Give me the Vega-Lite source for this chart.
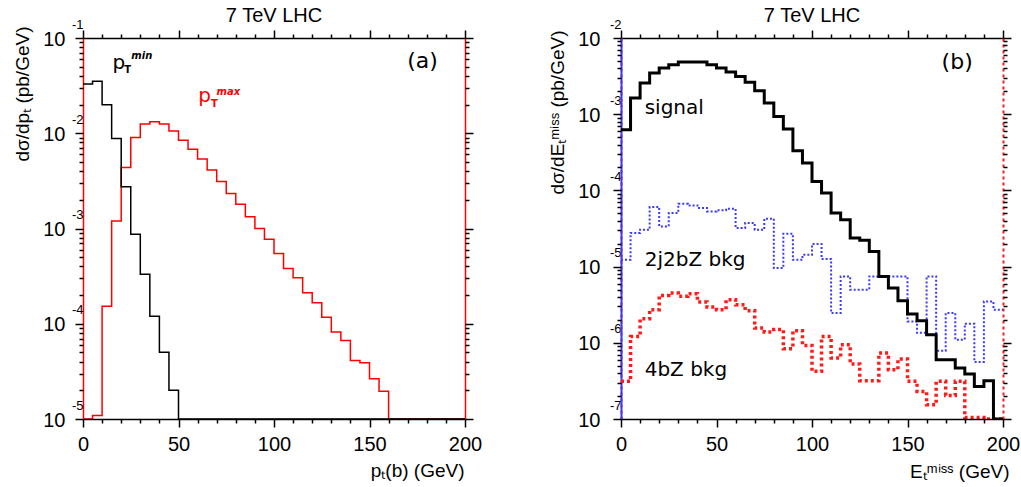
{
  "$schema": "https://vega.github.io/schema/vega-lite/v6.json",
  "background": "white",
  "padding": {"left": 12, "top": 6, "right": 5, "bottom": 5},
  "bounds": "flush",
  "spacing": 156,
  "config": {
    "view": {"stroke": null},
    "axis": {"grid": false, "labelFlush": false, "labelOverlap": false, "labelBound": false, "labelFont": "Liberation Sans", "titleFont": "Liberation Sans", "labelColor": "black", "titleColor": "black"},
    "title": {"font": "Liberation Sans", "fontSize": 20, "fontWeight": "normal", "color": "black"}
  },
  "datasets": {
    "pTmin": [
      {"x": 0, "y": 0.0328}, {"x": 5, "y": 0.0351}, {"x": 10, "y": 0.0199}, {"x": 15, "y": 0.00881}, {"x": 20, "y": 0.00274},
      {"x": 25, "y": 0.000869}, {"x": 30, "y": 0.00033}, {"x": 35, "y": 0.00012}, {"x": 40, "y": 0.0000502}, {"x": 45, "y": 0.00002},
      {"x": 50, "y": 0}, {"x": 55, "y": 0}, {"x": 60, "y": 0}, {"x": 65, "y": 0}, {"x": 70, "y": 0}, {"x": 75, "y": 0},
      {"x": 80, "y": 0}, {"x": 85, "y": 0}, {"x": 90, "y": 0}, {"x": 95, "y": 0}, {"x": 100, "y": 0}, {"x": 105, "y": 0},
      {"x": 110, "y": 0}, {"x": 115, "y": 0}, {"x": 120, "y": 0}, {"x": 125, "y": 0}, {"x": 130, "y": 0}, {"x": 135, "y": 0},
      {"x": 140, "y": 0}, {"x": 145, "y": 0}, {"x": 150, "y": 0}, {"x": 155, "y": 0}, {"x": 160, "y": 0}, {"x": 165, "y": 0},
      {"x": 170, "y": 0}, {"x": 175, "y": 0}, {"x": 180, "y": 0}, {"x": 185, "y": 0}, {"x": 190, "y": 0}, {"x": 195, "y": 0},
      {"x": 200, "y": 0}
    ],
    "pTmax": [
      {"x": 0, "y": 0}, {"x": 5, "y": 0.0000109}, {"x": 10, "y": 0.000153}, {"x": 15, "y": 0.0012}, {"x": 20, "y": 0.00436},
      {"x": 25, "y": 0.00904}, {"x": 30, "y": 0.01247}, {"x": 35, "y": 0.01318}, {"x": 40, "y": 0.01247}, {"x": 45, "y": 0.01059},
      {"x": 50, "y": 0.00845}, {"x": 55, "y": 0.00681}, {"x": 60, "y": 0.00535}, {"x": 65, "y": 0.00412}, {"x": 70, "y": 0.00311},
      {"x": 75, "y": 0.00233}, {"x": 80, "y": 0.0018}, {"x": 85, "y": 0.00133}, {"x": 90, "y": 0.001}, {"x": 95, "y": 0.00077},
      {"x": 100, "y": 0.000548}, {"x": 105, "y": 0.000381}, {"x": 110, "y": 0.000304}, {"x": 115, "y": 0.000212}, {"x": 120, "y": 0.000166},
      {"x": 125, "y": 0.000117}, {"x": 130, "y": 0.0000817}, {"x": 135, "y": 0.0000667}, {"x": 140, "y": 0.0000411}, {"x": 145, "y": 0.0000389},
      {"x": 150, "y": 0.0000264}, {"x": 155, "y": 0.0000196}, {"x": 160, "y": 0}, {"x": 165, "y": 0}, {"x": 170, "y": 0},
      {"x": 175, "y": 0}, {"x": 180, "y": 0}, {"x": 185, "y": 0}, {"x": 190, "y": 0}, {"x": 195, "y": 0}, {"x": 200, "y": 0}
    ],
    "signal": [
      {"x": 0, "y": 0.000626}, {"x": 5, "y": 0.00163}, {"x": 10, "y": 0.00256}, {"x": 15, "y": 0.00347}, {"x": 20, "y": 0.00403},
      {"x": 25, "y": 0.00447}, {"x": 30, "y": 0.00484}, {"x": 35, "y": 0.00484}, {"x": 40, "y": 0.00484}, {"x": 45, "y": 0.00447},
      {"x": 50, "y": 0.00405}, {"x": 55, "y": 0.00357}, {"x": 60, "y": 0.00313}, {"x": 65, "y": 0.00262}, {"x": 70, "y": 0.00203},
      {"x": 75, "y": 0.0014}, {"x": 80, "y": 0.000935}, {"x": 85, "y": 0.000638}, {"x": 90, "y": 0.000332}, {"x": 95, "y": 0.000229},
      {"x": 100, "y": 0.000131}, {"x": 105, "y": 0.0000924}, {"x": 110, "y": 0.0000505}, {"x": 115, "y": 0.0000412}, {"x": 120, "y": 0.0000237},
      {"x": 125, "y": 0.0000221}, {"x": 130, "y": 0.0000158}, {"x": 135, "y": 0.00000743}, {"x": 140, "y": 0.00000524}, {"x": 145, "y": 0.00000356},
      {"x": 150, "y": 0.00000239}, {"x": 155, "y": 0.00000195}, {"x": 160, "y": 0.00000128}, {"x": 165, "y": 0.0000006}, {"x": 170, "y": 0.0000006},
      {"x": 175, "y": 0.000000467}, {"x": 180, "y": 0.000000389}, {"x": 185, "y": 0.000000268}, {"x": 190, "y": 0.000000318}, {"x": 195, "y": 0},
      {"x": 200, "y": 0}
    ],
    "bkg2j2bZ": [
      {"x": 0, "y": 0.0000123}, {"x": 5, "y": 0.0000276}, {"x": 10, "y": 0.0000305}, {"x": 15, "y": 0.0000605}, {"x": 20, "y": 0.0000337},
      {"x": 25, "y": 0.0000505}, {"x": 30, "y": 0.0000668}, {"x": 35, "y": 0.0000635}, {"x": 40, "y": 0.0000587}, {"x": 45, "y": 0.000053},
      {"x": 50, "y": 0.0000547}, {"x": 55, "y": 0.0000575}, {"x": 60, "y": 0.0000321}, {"x": 65, "y": 0.0000373}, {"x": 70, "y": 0.0000305},
      {"x": 75, "y": 0.0000426}, {"x": 80, "y": 0.00000959}, {"x": 85, "y": 0.000027}, {"x": 90, "y": 0.0000123}, {"x": 95, "y": 0.0000143},
      {"x": 100, "y": 0.0000198}, {"x": 105, "y": 0.0000126}, {"x": 110, "y": 0.00000246}, {"x": 115, "y": 0.00000743}, {"x": 120, "y": 0.00000497},
      {"x": 125, "y": 0.00000497}, {"x": 130, "y": 0.00000743}, {"x": 135, "y": 0.00000743}, {"x": 140, "y": 0.00000743}, {"x": 145, "y": 0.00000743},
      {"x": 150, "y": 0.00000191}, {"x": 155, "y": 0.00000135}, {"x": 160, "y": 0.00000743}, {"x": 165, "y": 0.000000787}, {"x": 170, "y": 0.00000246},
      {"x": 175, "y": 0.0000011}, {"x": 180, "y": 0.00000178}, {"x": 185, "y": 0.00000056}, {"x": 190, "y": 0.00000349}, {"x": 195, "y": 0.00000272},
      {"x": 200, "y": 0.00000272}
    ],
    "bkg4bZ": [
      {"x": 0, "y": 0.000000312}, {"x": 5, "y": 0.00000121}, {"x": 10, "y": 0.00000207}, {"x": 15, "y": 0.00000272}, {"x": 20, "y": 0.00000419},
      {"x": 25, "y": 0.00000451}, {"x": 30, "y": 0.00000407}, {"x": 35, "y": 0.00000441}, {"x": 40, "y": 0.00000343}, {"x": 45, "y": 0.00000295},
      {"x": 50, "y": 0.00000272}, {"x": 55, "y": 0.00000368}, {"x": 60, "y": 0.00000316}, {"x": 65, "y": 0.00000264}, {"x": 70, "y": 0.00000156},
      {"x": 75, "y": 0.00000139}, {"x": 80, "y": 0.00000149}, {"x": 85, "y": 0.000000838}, {"x": 90, "y": 0.00000144}, {"x": 95, "y": 0.000000925},
      {"x": 100, "y": 0.000000422}, {"x": 105, "y": 0.00000121}, {"x": 110, "y": 0.000000632}, {"x": 115, "y": 0.000000944}, {"x": 120, "y": 0.000000527},
      {"x": 125, "y": 0.000000318}, {"x": 130, "y": 0.000000318}, {"x": 135, "y": 0.000000735}, {"x": 140, "y": 0.000000444}, {"x": 145, "y": 0.000000612},
      {"x": 150, "y": 0.000000312}, {"x": 155, "y": 0.00000023}, {"x": 160, "y": 0.000000154}, {"x": 165, "y": 0.000000312}, {"x": 170, "y": 0.000000204},
      {"x": 175, "y": 0.000000312}, {"x": 180, "y": 0.000000105}, {"x": 185, "y": 0.000000105}, {"x": 190, "y": 0}, {"x": 195, "y": 0},
      {"x": 200, "y": 0}
    ]
  },
  "hconcat": [
    {
      "width": 382,
      "height": 381,
      "title": {"text": "7 TeV LHC", "offset": -8},
      "resolve": {"axis": {"x": "independent", "y": "independent"}},
      "layer": [
        {
          "data": {"name": "pTmax"},
          "mark": {"type": "line", "interpolate": "step-after", "color": "#ff0000", "strokeWidth": 1.5, "clip": true, "invalid": "show"},
          "encoding": {
            "x": {"field": "x", "type": "quantitative", "scale": {"domain": [0, 200], "nice": false, "zero": false},
              "axis": {"orient": "top", "values": [0], "labels": false, "ticks": false, "title": null, "domainColor": "black", "domainWidth": 1.5}},
            "y": {"field": "y", "type": "quantitative", "scale": {"type": "log", "domain": [0.00001, 0.1], "nice": false, "clamp": true},
              "axis": {"orient": "right", "values": [0.1], "labels": false, "ticks": false, "title": null, "domainColor": "#ff0000", "domainWidth": 1.5}}
          }
        },
        {
          "data": {"name": "pTmin"},
          "mark": {"type": "line", "interpolate": "step-after", "color": "black", "strokeWidth": 1.5, "clip": true, "invalid": "show"},
          "encoding": {
            "x": {"field": "x", "type": "quantitative", "scale": {"domain": [0, 200], "nice": false, "zero": false},
              "axis": {"orient": "bottom", "values": [0, 50, 100, 150, 200], "ticks": false, "labelFontSize": 20, "labelPadding": 15,
                "domainColor": "black", "domainWidth": 1.5, "zindex": 1,
                "title": "pₜ(b) (GeV)", "titleFontSize": 19, "titleFontWeight": "normal", "titleX": 381, "titleY": 57, "titleAlign": "right", "titleBaseline": "alphabetic"}},
            "y": {"field": "y", "type": "quantitative", "scale": {"type": "log", "domain": [0.00001, 0.1], "nice": false, "clamp": true},
              "axis": {"orient": "left", "values": [0.00001, 0.0001, 0.001, 0.01, 0.1], "ticks": false, "labelExpr": "'10'", "labelFontSize": 20, "labelPadding": 18,
                "labelBaseline": "middle", "labelOffset": 1, "domainColor": "#ff0000", "domainWidth": 1.5,
                "title": "dσ/dpₜ (pb/GeV)", "titleFontSize": 19, "titleFontWeight": "normal", "titleAngle": -90, "titleX": -55, "titleY": -12, "titleAlign": "right", "titleBaseline": "alphabetic"}}
          }
        },
        {
          "data": {"values": [{}]},
          "mark": {"type": "text", "text": "(a)", "font": "DejaVu Sans", "fontSize": 22, "align": "center", "baseline": "middle", "color": "black"},
          "encoding": {
            "x": {"datum": 177.8, "type": "quantitative", "scale": {"domain": [0, 200], "nice": false, "zero": false},
              "axis": {"orient": "bottom", "values": [0, 50, 100, 150, 200], "labels": false, "title": null, "domain": false, "ticks": true, "tickSize": 8, "tickWidth": 1.5, "tickColor": "#000000"}},
            "y": {"datum": 0.0573, "type": "quantitative", "scale": {"type": "log", "domain": [0.00001, 0.1], "nice": false, "clamp": true},
              "axis": {"orient": "left", "values": [0.00001, 0.0001, 0.001, 0.01, 0.1], "labels": false, "title": null, "domain": false, "ticks": true, "tickSize": 8, "tickWidth": 1.5, "tickColor": "#000000"}}
          }
        },
        {
          "data": {"values": [{}]},
          "mark": {"type": "text", "text": "p", "font": "DejaVu Sans", "fontSize": 20, "align": "left", "baseline": "alphabetic", "color": "black"},
          "encoding": {
            "x": {"datum": 15.4, "type": "quantitative", "scale": {"domain": [0, 200], "nice": false, "zero": false},
              "axis": {"orient": "bottom", "values": [10,20,30,40,60,70,80,90,110,120,130,140,160,170,180,190], "labels": false, "title": null, "domain": false, "ticks": true, "tickSize": 4, "tickWidth": 1.5, "tickColor": "#000000"}},
            "y": {"datum": 0.0472, "type": "quantitative", "scale": {"type": "log", "domain": [0.00001, 0.1], "nice": false, "clamp": true},
              "axis": {"orient": "left", "values": [0.00001, 0.0001, 0.001, 0.01, 0.1], "ticks": false, "domain": false, "title": null,
                "labelExpr": "'' + round(log(datum.value)/LN10)", "labelFontSize": 13, "labelPadding": 0, "labelOffset": -14, "labelBaseline": "middle"}}
          }
        },
        {
          "data": {"values": [{}]},
          "mark": {"type": "text", "text": "T", "font": "DejaVu Sans", "fontSize": 10, "fontWeight": "bold", "align": "left", "baseline": "alphabetic", "color": "black"},
          "encoding": {
            "x": {"datum": 21.6, "type": "quantitative", "scale": {"domain": [0, 200], "nice": false, "zero": false},
              "axis": {"orient": "top", "values": [0, 50, 100, 150, 200], "labels": false, "title": null, "domain": false, "ticks": true, "tickSize": 8, "tickWidth": 1.5, "tickColor": "#000000"}},
            "y": {"datum": 0.0429, "type": "quantitative", "scale": {"type": "log", "domain": [0.00001, 0.1], "nice": false, "clamp": true},
              "axis": {"orient": "left", "values": [0.00002,0.00003,0.00004,0.00005,0.00006,0.00007,0.00008,0.00009,0.0002,0.0003,0.0004,0.0005,0.0006,0.0007,0.0008,0.0009,0.002,0.003,0.004,0.005,0.006,0.007,0.008,0.009,0.02,0.03,0.04,0.05,0.06,0.07,0.08,0.09],
                "labels": false, "title": null, "domain": false, "ticks": true, "tickSize": 4, "tickWidth": 1.5, "tickColor": "#000000"}}
          }
        },
        {
          "data": {"values": [{}]},
          "mark": {"type": "text", "text": "min", "font": "DejaVu Sans", "fontSize": 10, "fontStyle": "italic", "fontWeight": "bold", "align": "left", "baseline": "alphabetic", "color": "black"},
          "encoding": {
            "x": {"datum": 25.3, "type": "quantitative", "scale": {"domain": [0, 200], "nice": false, "zero": false},
              "axis": {"orient": "top", "values": [10,20,30,40,60,70,80,90,110,120,130,140,160,170,180,190], "labels": false, "title": null, "domain": false, "ticks": true, "tickSize": 4, "tickWidth": 1.5, "tickColor": "#000000"}},
            "y": {"datum": 0.0601, "type": "quantitative", "scale": {"type": "log", "domain": [0.00001, 0.1], "nice": false, "clamp": true},
              "axis": {"orient": "right", "values": [0.00001, 0.0001, 0.001, 0.01, 0.1], "labels": false, "title": null, "domain": false, "ticks": true, "tickSize": 8, "tickWidth": 1.5, "tickColor": "#000000"}}
          }
        },
        {
          "data": {"values": [{}]},
          "mark": {"type": "text", "text": "p", "font": "DejaVu Sans", "fontSize": 20, "align": "left", "baseline": "alphabetic", "color": "#ff0000"},
          "encoding": {
            "x": {"datum": 60.4, "type": "quantitative", "scale": {"domain": [0, 200], "nice": false, "zero": false}, "axis": null},
            "y": {"datum": 0.02124, "type": "quantitative", "scale": {"type": "log", "domain": [0.00001, 0.1], "nice": false, "clamp": true},
              "axis": {"orient": "right", "values": [0.00002,0.00003,0.00004,0.00005,0.00006,0.00007,0.00008,0.00009,0.0002,0.0003,0.0004,0.0005,0.0006,0.0007,0.0008,0.0009,0.002,0.003,0.004,0.005,0.006,0.007,0.008,0.009,0.02,0.03,0.04,0.05,0.06,0.07,0.08,0.09],
                "labels": false, "title": null, "domain": false, "ticks": true, "tickSize": 4, "tickWidth": 1.5, "tickColor": "#000000"}}
          }
        },
        {
          "data": {"values": [{}]},
          "mark": {"type": "text", "text": "T", "font": "DejaVu Sans", "fontSize": 10, "fontWeight": "bold", "align": "left", "baseline": "alphabetic", "color": "#ff0000"},
          "encoding": {
            "x": {"datum": 67.0, "type": "quantitative", "scale": {"domain": [0, 200], "nice": false, "zero": false}, "axis": null},
            "y": {"datum": 0.01879, "type": "quantitative", "scale": {"type": "log", "domain": [0.00001, 0.1], "nice": false, "clamp": true}, "axis": null}
          }
        },
        {
          "data": {"values": [{}]},
          "mark": {"type": "text", "text": "max", "font": "DejaVu Sans", "fontSize": 10, "fontStyle": "italic", "fontWeight": "bold", "align": "left", "baseline": "alphabetic", "color": "#ff0000"},
          "encoding": {
            "x": {"datum": 69.9, "type": "quantitative", "scale": {"domain": [0, 200], "nice": false, "zero": false}, "axis": null},
            "y": {"datum": 0.0252, "type": "quantitative", "scale": {"type": "log", "domain": [0.00001, 0.1], "nice": false, "clamp": true}, "axis": null}
          }
        }
      ]
    },
    {
      "width": 382,
      "height": 381,
      "title": {"text": "7 TeV LHC", "offset": -8},
      "resolve": {"axis": {"x": "independent", "y": "independent"}},
      "layer": [
        {
          "data": {"name": "bkg2j2bZ"},
          "mark": {"type": "line", "interpolate": "step-after", "color": "#3a3aff", "strokeWidth": 2, "strokeDash": [2, 2], "clip": true, "invalid": "show"},
          "encoding": {
            "x": {"field": "x", "type": "quantitative", "scale": {"domain": [0, 200], "nice": false, "zero": false},
              "axis": {"orient": "top", "values": [0], "labels": false, "ticks": false, "title": null, "domainColor": "black", "domainWidth": 1.5}},
            "y": {"field": "y", "type": "quantitative", "scale": {"type": "log", "domain": [0.0000001, 0.01], "nice": false, "clamp": true},
              "axis": {"orient": "right", "values": [0.01], "labels": false, "ticks": false, "title": null, "domainColor": "#ff1a1a", "domainWidth": 2, "domainDash": [3, 3]}}
          }
        },
        {
          "data": {"name": "bkg4bZ"},
          "mark": {"type": "line", "interpolate": "step-after", "color": "#ff1a1a", "strokeWidth": 3.5, "strokeDash": [3, 3], "clip": true, "invalid": "show"},
          "encoding": {
            "x": {"field": "x", "type": "quantitative", "scale": {"domain": [0, 200], "nice": false, "zero": false},
              "axis": {"orient": "bottom", "values": [0, 50, 100, 150, 200], "labels": false, "title": null, "domain": false, "ticks": true, "tickSize": 8, "tickWidth": 1.5, "tickColor": "#000000"}},
            "y": {"field": "y", "type": "quantitative", "scale": {"type": "log", "domain": [0.0000001, 0.01], "nice": false, "clamp": true},
              "axis": {"orient": "left", "values": [0.0000001, 0.000001, 0.00001, 0.0001, 0.001, 0.01], "ticks": false, "title": null,
                "domainColor": "#ff1a1a", "domainWidth": 2, "domainDash": [3, 3],
                "labelExpr": "'' + round(log(datum.value)/LN10)", "labelFontSize": 13, "labelPadding": 0, "labelOffset": -14, "labelBaseline": "middle"}}
          }
        },
        {
          "data": {"name": "signal"},
          "mark": {"type": "line", "interpolate": "step-after", "color": "black", "strokeWidth": 3, "clip": true, "invalid": "show"},
          "encoding": {
            "x": {"field": "x", "type": "quantitative", "scale": {"domain": [0, 200], "nice": false, "zero": false},
              "axis": {"orient": "bottom", "values": [0, 50, 100, 150, 200], "ticks": false, "labelFontSize": 20, "labelPadding": 15,
                "domainColor": "black", "domainWidth": 1.5, "zindex": 1,
                "title": "Eₜᵐⁱˢˢ (GeV)", "titleFontSize": 19, "titleFontWeight": "normal", "titleX": 388, "titleY": 58, "titleAlign": "right", "titleBaseline": "alphabetic"}},
            "y": {"field": "y", "type": "quantitative", "scale": {"type": "log", "domain": [0.0000001, 0.01], "nice": false, "clamp": true},
              "axis": {"orient": "left", "values": [0.0000001, 0.000001, 0.00001, 0.0001, 0.001, 0.01], "ticks": false, "labelExpr": "'10'", "labelFontSize": 20, "labelPadding": 21,
                "labelBaseline": "middle", "labelOffset": 1, "domainColor": "#3a3aff", "domainWidth": 2,
                "title": "dσ/dEₜᵐⁱˢˢ (pb/GeV)", "titleFontSize": 19, "titleFontWeight": "normal", "titleAngle": -90, "titleX": -58, "titleY": -8, "titleAlign": "right", "titleBaseline": "alphabetic"}}
          }
        },
        {
          "data": {"values": [{}]},
          "mark": {"type": "text", "text": "(b)", "font": "DejaVu Sans", "fontSize": 22, "align": "center", "baseline": "middle", "color": "black"},
          "encoding": {
            "x": {"datum": 176, "type": "quantitative", "scale": {"domain": [0, 200], "nice": false, "zero": false},
              "axis": {"orient": "bottom", "values": [10,20,30,40,60,70,80,90,110,120,130,140,160,170,180,190], "labels": false, "title": null, "domain": false, "ticks": true, "tickSize": 4, "tickWidth": 1.5, "tickColor": "#000000"}},
            "y": {"datum": 0.00489, "type": "quantitative", "scale": {"type": "log", "domain": [0.0000001, 0.01], "nice": false, "clamp": true},
              "axis": {"orient": "left", "values": [0.0000001, 0.000001, 0.00001, 0.0001, 0.001, 0.01], "labels": false, "title": null, "domain": false, "ticks": true, "tickSize": 8, "tickWidth": 1.5, "tickColor": "#000000"}}
          }
        },
        {
          "data": {"values": [{}]},
          "mark": {"type": "text", "text": "signal", "font": "DejaVu Sans", "fontSize": 20, "align": "left", "baseline": "alphabetic", "color": "black"},
          "encoding": {
            "x": {"datum": 12.4, "type": "quantitative", "scale": {"domain": [0, 200], "nice": false, "zero": false},
              "axis": {"orient": "top", "values": [0, 50, 100, 150, 200], "labels": false, "title": null, "domain": false, "ticks": true, "tickSize": 8, "tickWidth": 1.5, "tickColor": "#000000"}},
            "y": {"datum": 0.00102, "type": "quantitative", "scale": {"type": "log", "domain": [0.0000001, 0.01], "nice": false, "clamp": true},
              "axis": {"orient": "left", "values": [0.0000002,0.0000003,0.0000004,0.0000005,0.0000006,0.0000007,0.0000008,0.0000009,0.000002,0.000003,0.000004,0.000005,0.000006,0.000007,0.000008,0.000009,0.00002,0.00003,0.00004,0.00005,0.00006,0.00007,0.00008,0.00009,0.0002,0.0003,0.0004,0.0005,0.0006,0.0007,0.0008,0.0009,0.002,0.003,0.004,0.005,0.006,0.007,0.008,0.009],
                "labels": false, "title": null, "domain": false, "ticks": true, "tickSize": 4, "tickWidth": 1.5, "tickColor": "#000000"}}
          }
        },
        {
          "data": {"values": [{}]},
          "mark": {"type": "text", "text": "2j2bZ bkg", "font": "DejaVu Sans", "fontSize": 20, "align": "left", "baseline": "alphabetic", "color": "black"},
          "encoding": {
            "x": {"datum": 12.4, "type": "quantitative", "scale": {"domain": [0, 200], "nice": false, "zero": false},
              "axis": {"orient": "top", "values": [10,20,30,40,60,70,80,90,110,120,130,140,160,170,180,190], "labels": false, "title": null, "domain": false, "ticks": true, "tickSize": 4, "tickWidth": 1.5, "tickColor": "#000000"}},
            "y": {"datum": 0.00001007, "type": "quantitative", "scale": {"type": "log", "domain": [0.0000001, 0.01], "nice": false, "clamp": true},
              "axis": {"orient": "right", "values": [0.0000001, 0.000001, 0.00001, 0.0001, 0.001, 0.01], "labels": false, "title": null, "domain": false, "ticks": true, "tickSize": 8, "tickWidth": 1.5, "tickColor": "#000000"}}
          }
        },
        {
          "data": {"values": [{}]},
          "mark": {"type": "text", "text": "4bZ bkg", "font": "DejaVu Sans", "fontSize": 20, "align": "left", "baseline": "alphabetic", "color": "black"},
          "encoding": {
            "x": {"datum": 12.4, "type": "quantitative", "scale": {"domain": [0, 200], "nice": false, "zero": false}, "axis": null},
            "y": {"datum": 0.000000362, "type": "quantitative", "scale": {"type": "log", "domain": [0.0000001, 0.01], "nice": false, "clamp": true},
              "axis": {"orient": "right", "values": [0.0000002,0.0000003,0.0000004,0.0000005,0.0000006,0.0000007,0.0000008,0.0000009,0.000002,0.000003,0.000004,0.000005,0.000006,0.000007,0.000008,0.000009,0.00002,0.00003,0.00004,0.00005,0.00006,0.00007,0.00008,0.00009,0.0002,0.0003,0.0004,0.0005,0.0006,0.0007,0.0008,0.0009,0.002,0.003,0.004,0.005,0.006,0.007,0.008,0.009],
                "labels": false, "title": null, "domain": false, "ticks": true, "tickSize": 4, "tickWidth": 1.5, "tickColor": "#000000"}}
          }
        }
      ]
    }
  ]
}
